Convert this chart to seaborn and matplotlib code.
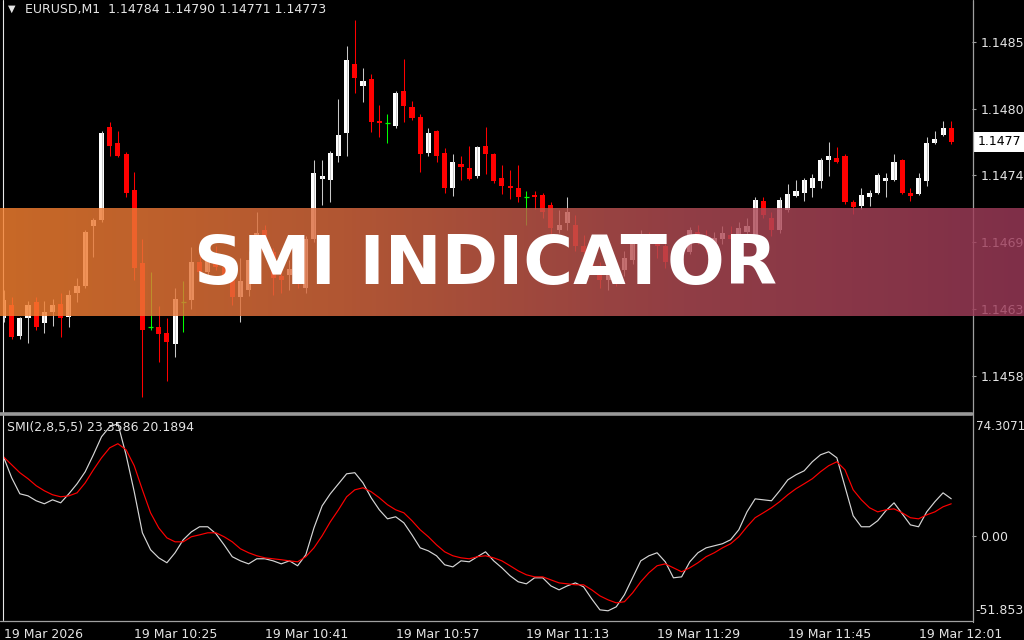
import numpy as np
import pandas as pd
import matplotlib
matplotlib.use("Agg")
import matplotlib.pyplot as plt
from matplotlib.lines import Line2D
from matplotlib.colors import LinearSegmentedColormap
import seaborn as sns

# ---------------------------------------------------------------- data
symbol = "EURUSD,M1"

opens = [1.14630, 1.14641, 1.14616, 1.14630, 1.14643, 1.14626, 1.14635, 1.14642, 1.14631, 1.14651,
         1.14656, 1.14705, 1.14710, 1.14785, 1.14772, 1.14763, 1.14734, 1.14675, 1.14623, 1.14623,
         1.14618, 1.14609, 1.14643, 1.14645, 1.14676, 1.14668, 1.14679, 1.14672, 1.14661, 1.14647,
         1.14653, 1.14684, 1.14702, 1.14684, 1.14664, 1.14665, 1.14669, 1.14655, 1.14694, 1.14743,
         1.14742, 1.14762, 1.14780, 1.14836, 1.14818, 1.14824, 1.14790, 1.14788, 1.14786, 1.14814,
         1.14801, 1.14793, 1.14764, 1.14782, 1.14764, 1.14736, 1.14755, 1.14752, 1.14745, 1.14770,
         1.14763, 1.14744, 1.14737, 1.14736, 1.14728, 1.14730, 1.14730, 1.14722, 1.14702, 1.14707,
         1.14706, 1.14689, 1.14684, 1.14671, 1.14661, 1.14668, 1.14669, 1.14677, 1.14690, 1.14695,
         1.14690, 1.14689, 1.14676, 1.14672, 1.14684, 1.14700, 1.14695, 1.14689, 1.14694, 1.14698,
         1.14694, 1.14700, 1.14698, 1.14725, 1.14711, 1.14702, 1.14718, 1.14729, 1.14732, 1.14736,
         1.14741, 1.14758, 1.14760, 1.14762, 1.14724, 1.14721, 1.14728, 1.14732, 1.14741, 1.14742,
         1.14758, 1.14732, 1.14731, 1.14741, 1.14772, 1.14779, 1.14784]

highs = [1.14653, 1.14647, 1.14631, 1.14644, 1.14647, 1.14644, 1.14646, 1.14651, 1.14653, 1.14663,
         1.14702, 1.14711, 1.14782, 1.14789, 1.14782, 1.14765, 1.14749, 1.14694, 1.14668, 1.14640,
         1.14630, 1.14655, 1.14660, 1.14688, 1.14681, 1.14685, 1.14689, 1.14677, 1.14669, 1.14679,
         1.14685, 1.14716, 1.14706, 1.14687, 1.14675, 1.14677, 1.14676, 1.14697, 1.14758, 1.14758,
         1.14766, 1.14808, 1.14851, 1.14872, 1.14833, 1.14828, 1.14803, 1.14796, 1.14814, 1.14840,
         1.14806, 1.14796, 1.14784, 1.14783, 1.14768, 1.14763, 1.14762, 1.14770, 1.14770, 1.14785,
         1.14764, 1.14754, 1.14750, 1.14754, 1.14733, 1.14733, 1.14732, 1.14724, 1.14718, 1.14728,
         1.14714, 1.14698, 1.14689, 1.14676, 1.14673, 1.14672, 1.14685, 1.14695, 1.14702, 1.14700,
         1.14697, 1.14694, 1.14684, 1.14687, 1.14704, 1.14706, 1.14702, 1.14700, 1.14705, 1.14705,
         1.14708, 1.14711, 1.14728, 1.14728, 1.14716, 1.14728, 1.14739, 1.14742, 1.14744, 1.14747,
         1.14760, 1.14773, 1.14769, 1.14763, 1.14726, 1.14736, 1.14734, 1.14748, 1.14748, 1.14763,
         1.14759, 1.14736, 1.14748, 1.14777, 1.14782, 1.14790, 1.14790]

lows = [1.14627, 1.14613, 1.14613, 1.14610, 1.14621, 1.14618, 1.14624, 1.14615, 1.14623, 1.14643,
        1.14655, 1.14680, 1.14708, 1.14762, 1.14761, 1.14728, 1.14661, 1.14566, 1.14621, 1.14595,
        1.14579, 1.14599, 1.14619, 1.14638, 1.14660, 1.14664, 1.14669, 1.14660, 1.14641, 1.14627,
        1.14648, 1.14679, 1.14681, 1.14649, 1.14651, 1.14653, 1.14655, 1.14651, 1.14692, 1.14722,
        1.14724, 1.14757, 1.14762, 1.14813, 1.14805, 1.14781, 1.14777, 1.14772, 1.14784, 1.14789,
        1.14791, 1.14749, 1.14762, 1.14757, 1.14732, 1.14729, 1.14742, 1.14742, 1.14744, 1.14747,
        1.14740, 1.14731, 1.14727, 1.14724, 1.14706, 1.14719, 1.14711, 1.14698, 1.14699, 1.14702,
        1.14685, 1.14676, 1.14668, 1.14655, 1.14653, 1.14656, 1.14664, 1.14674, 1.14685, 1.14685,
        1.14679, 1.14671, 1.14668, 1.14669, 1.14682, 1.14690, 1.14684, 1.14685, 1.14690, 1.14689,
        1.14690, 1.14694, 1.14694, 1.14711, 1.14697, 1.14699, 1.14716, 1.14728, 1.14725, 1.14728,
        1.14736, 1.14745, 1.14756, 1.14723, 1.14715, 1.14719, 1.14721, 1.14731, 1.14728, 1.14741,
        1.14731, 1.14725, 1.14730, 1.14737, 1.14771, 1.14778, 1.14771]

closes = [1.14645, 1.14615, 1.14630, 1.14641, 1.14623, 1.14635, 1.14641, 1.14630, 1.14649, 1.14656,
          1.14700, 1.14710, 1.14780, 1.14770, 1.14762, 1.14732, 1.14671, 1.14621, 1.14623, 1.14617,
          1.14611, 1.14646, 1.14643, 1.14676, 1.14668, 1.14679, 1.14672, 1.14663, 1.14647, 1.14660,
          1.14677, 1.14699, 1.14684, 1.14663, 1.14661, 1.14670, 1.14660, 1.14694, 1.14748, 1.14745,
          1.14764, 1.14779, 1.14839, 1.14825, 1.14822, 1.14789, 1.14788, 1.14788, 1.14813, 1.14802,
          1.14792, 1.14763, 1.14780, 1.14762, 1.14736, 1.14757, 1.14753, 1.14743, 1.14769, 1.14763,
          1.14741, 1.14737, 1.14736, 1.14728, 1.14728, 1.14728, 1.14716, 1.14703, 1.14706, 1.14716,
          1.14689, 1.14684, 1.14671, 1.14661, 1.14668, 1.14663, 1.14679, 1.14692, 1.14697, 1.14690,
          1.14689, 1.14676, 1.14672, 1.14684, 1.14702, 1.14695, 1.14689, 1.14695, 1.14699, 1.14694,
          1.14703, 1.14705, 1.14726, 1.14714, 1.14702, 1.14726, 1.14731, 1.14733, 1.14742, 1.14744,
          1.14758, 1.14762, 1.14757, 1.14724, 1.14720, 1.14730, 1.14732, 1.14746, 1.14744, 1.14757,
          1.14732, 1.14729, 1.14744, 1.14772, 1.14775, 1.14784, 1.14773]

smi_main = [49.8, 36.6, 26.5, 25.2, 22.1, 20.2, 22.7, 20.8, 26.5, 32.8,
            40.4, 51.1, 62.5, 68.8, 70.7, 51.1, 27.8, 1.9, -8.8, -13.9,
            -17.0, -10.7, -2.5, 2.5, 5.7, 5.7, 1.3, -5.7, -13.2, -15.8,
            -17.7, -14.5, -14.5, -15.8, -17.7, -15.8, -18.9, -12.0, 5.0, 18.9,
            26.5, 32.8, 39.1, 39.8, 33.4, 24.0, 16.4, 10.7, 12.0, 8.2,
            0.6, -7.6, -9.5, -12.6, -18.3, -19.6, -15.8, -16.4, -13.2, -10.1,
            -15.8, -20.2, -25.2, -29.0, -30.3, -26.5, -26.5, -31.6, -34.1, -31.6,
            -29.7, -32.2, -39.8, -46.7, -47.3, -44.8, -37.2, -26.5, -15.8, -12.6,
            -10.7, -16.4, -26.5, -25.9, -16.4, -10.7, -7.6, -6.3, -5.0, -2.5,
            3.8, 15.1, 23.3, 22.7, 22.1, 28.4, 35.3, 38.5, 41.0, 46.7,
            51.1, 53.0, 49.2, 30.9, 12.6, 5.7, 5.7, 9.5, 15.8, 20.8,
            13.9, 6.9, 5.7, 15.1, 21.5, 27.1, 23.3586]

smi_signal = [49.8, 44.8, 39.8, 36.0, 31.6, 28.4, 25.9, 24.6, 25.2, 27.1,
              33.4, 41.6, 49.2, 55.5, 58.1, 54.3, 44.2, 29.0, 14.5, 5.0,
              -1.3, -3.8, -3.8, -0.6, 0.6, 1.9, 1.9, -0.6, -3.8, -8.2,
              -10.7, -12.6, -13.9, -14.5, -15.1, -15.8, -16.4, -13.2, -7.6, 0.0,
              8.8, 16.4, 24.6, 29.0, 30.3, 27.8, 24.0, 19.6, 16.4, 14.5,
              9.5, 3.8, -0.6, -5.7, -10.1, -12.6, -13.9, -14.5, -13.2, -12.6,
              -13.9, -15.8, -18.9, -22.1, -24.6, -25.9, -25.9, -27.8, -29.7, -30.3,
              -30.9, -30.9, -34.1, -37.9, -40.4, -42.3, -41.6, -36.0, -29.0, -23.3,
              -18.9, -17.7, -20.2, -22.7, -20.2, -17.0, -13.2, -10.7, -7.6, -5.0,
              -0.6, 5.7, 11.4, 14.5, 17.7, 21.5, 25.9, 29.7, 32.8, 36.0,
              40.4, 44.2, 46.7, 41.6, 29.0, 22.7, 17.7, 15.1, 16.4, 17.0,
              14.5, 11.4, 10.7, 13.2, 15.1, 18.3, 20.1894]

smi_params = "SMI(2,8,5,5)"
smi_max = 74.3071
smi_min = -51.853

time_tick_bars = [0, 16, 32, 48, 64, 80, 96, 112]
time_labels = ["19 Mar 2026", "19 Mar 10:25", "19 Mar 10:41", "19 Mar 10:57",
               "19 Mar 11:13", "19 Mar 11:29", "19 Mar 11:45", "19 Mar 12:01"]

price_tick_values = [1.14854, 1.14800, 1.14746, 1.14692, 1.14638, 1.14583]
price_tick_labels = ["1.1485", "1.1480", "1.1474", "1.1469", "1.1463", "1.1458"]
price_range = (1.14555, 1.14888)

banner_text = "SMI INDICATOR"
banner_colors = ["#F58130", "#D96A3F", "#B24C55", "#9C3A5A"]

# ---------------------------------------------------------------- style
sns.set_theme(style="dark", rc={"axes.facecolor": "black",
                                "figure.facecolor": "black",
                                "savefig.facecolor": "black"})
plt.rcParams["font.family"] = ["DejaVu Sans"]

TXT = "#E4E4E4"
GRID = "#A0A0A0"
W, H = 1024, 640


def fx(px):
    return px / W


def fy(py):
    return 1 - py / H


fig = plt.figure(figsize=(W / 100, H / 100), dpi=100)

bar_px = 8.17
first_bar_px = 3.5
left_px, right_px = 3, 972
xlim = ((left_px - first_bar_px) / bar_px, (right_px - first_bar_px) / bar_px)

o = np.array(opens)
h = np.array(highs)
lo = np.array(lows)
c = np.array(closes)
idx = np.arange(len(o))
up = c > o
down = c < o
doji = c == o

# ---------------------------------------------------------------- price pane
ax = fig.add_axes([fx(left_px), fy(411), fx(right_px - left_px), 411 / H])
ax.set_facecolor("black")

wick_cols = np.where(up, "#C8C8C8", np.where(down, "#FF0000", "#00FF00"))
ax.vlines(idx, lo, h, colors=list(wick_cols), linewidth=0.75)
ax.bar(idx[up], (c - o)[up], bottom=o[up], width=0.62, color="white", linewidth=0)
ax.bar(idx[down], (o - c)[down], bottom=c[down], width=0.62, color="#FF0000", linewidth=0)
ax.hlines(o[doji], idx[doji] - 0.31, idx[doji] + 0.31, colors="#00FF00", linewidth=0.9)

ax.set_xlim(*xlim)
ax.set_ylim(*price_range)
ax.set_xticks([])
ax.yaxis.tick_right()
ax.set_yticks(price_tick_values, price_tick_labels)
ax.tick_params(axis="y", colors=GRID, labelcolor=TXT, labelsize=9,
               length=3, width=0.8, pad=3)
for s in ax.spines.values():
    s.set_visible(False)

# last price marker on the price scale
ax.annotate(f"{closes[-1]:.5f}"[:6], xy=(1.0, closes[-1]),
            xycoords=("axes fraction", "data"),
            xytext=(4, 0), textcoords="offset points",
            va="center", ha="left", fontsize=9, color="black",
            bbox=dict(boxstyle="square,pad=0.25", fc="white", ec="none"),
            annotation_clip=False)

fig.text(fx(8), fy(9), "\u25BC", fontsize=7, color=TXT, va="center", ha="left")
fig.text(fx(25), fy(9),
         f"{symbol}  {opens[-1]:.5f} {highs[-1]:.5f} {lows[-1]:.5f} {closes[-1]:.5f}",
         fontsize=9, color=TXT, va="center", ha="left")

# ---------------------------------------------------------------- SMI pane
ax2 = fig.add_axes([fx(left_px), fy(618), fx(right_px - left_px), 200 / H])
ax2.set_facecolor("black")
smi_df = pd.DataFrame({"bar": idx, "SMI": smi_main, "Signal": smi_signal})
sns.lineplot(data=smi_df, x="bar", y="SMI", color="#D6D6D6", linewidth=0.85, ax=ax2)
sns.lineplot(data=smi_df, x="bar", y="Signal", color="#FF0000", linewidth=0.85, ax=ax2)
ax2.set_xlim(*xlim)
ax2.set_ylim(smi_min, smi_max)
ax2.set_xlabel("")
ax2.set_ylabel("")
ax2.yaxis.tick_right()
ax2.set_yticks([0.0], ["0.00"])
ax2.tick_params(axis="y", colors=GRID, labelcolor=TXT, labelsize=9,
                length=3, width=0.8, pad=3)
ax2.set_xticks(time_tick_bars, time_labels)
ax2.tick_params(axis="x", colors=GRID, labelcolor=TXT, labelsize=9,
                length=4, width=0.8, pad=3)
for lab in ax2.get_xticklabels():
    lab.set_ha("left")
for s in ax2.spines.values():
    s.set_visible(False)

fig.text(fx(976), fy(426), f"{smi_max:.4f}", fontsize=8.6, color=TXT, va="center", ha="left")
fig.text(fx(975), fy(610), f"{smi_min:.3f}", fontsize=9, color=TXT, va="center", ha="left")
fig.text(fx(7), fy(428), f"{smi_params} {smi_main[-1]:.4f} {smi_signal[-1]:.4f}",
         fontsize=9, color=TXT, va="center", ha="left")

# ---------------------------------------------------------------- frame lines
frame = [
    ((fx(2.5), fx(2.5)), (fy(0), fy(620)), "#E8E8E8", 0.8),
    ((fx(972.5), fx(972.5)), (fy(0), fy(622)), GRID, 0.9),
    ((fx(0), fx(972)), (fy(414), fy(414)), "#999999", 2.6),
    ((fx(0), fx(972)), (fy(620.5), fy(620.5)), GRID, 0.9),
]
for xs, ys, col, lw in frame:
    fig.add_artist(Line2D(xs, ys, color=col, linewidth=lw, transform=fig.transFigure))

# ---------------------------------------------------------------- title banner
bax = fig.add_axes([0, fy(316), 1, 108 / H])
bax.set_zorder(10)
cmap = LinearSegmentedColormap.from_list("banner", banner_colors)
bax.imshow(np.linspace(0, 1, 512)[None, :], aspect="auto", cmap=cmap,
           alpha=0.82, extent=[0, 1, 0, 1])
bax.set_xlim(0, 1)
bax.set_ylim(0, 1)
bax.axis("off")
bax.text(485.5 / W, (316 - 284) / 108, banner_text, ha="center", va="baseline",
         fontsize=49, fontweight="bold", color="white")

fig.savefig("out.png", dpi=100, facecolor="black")
